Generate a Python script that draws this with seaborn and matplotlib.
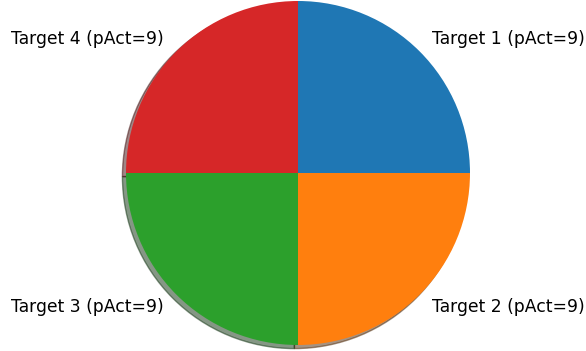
import matplotlib
matplotlib.use("Agg")
import matplotlib.pyplot as plt
import seaborn as sns

# Target activity counts
targets = ["Target 1", "Target 2", "Target 3", "Target 4"]
p_act = [9, 9, 9, 9]

labels = [f"{t} (pAct={v})" for t, v in zip(targets, p_act)]
colors = sns.color_palette("tab10", len(targets))

W, H, DPI = 586, 351, 100
fig = plt.figure(figsize=(W / DPI, H / DPI), dpi=DPI)

# square axes so the pie (radius = 1 of 2.5 data units) sits centred on the canvas
side = 430
cx, cy = 298, H - 173
ax = fig.add_axes([(cx - side / 2) / W, (cy - side / 2) / H, side / W, side / H])

ax.pie(p_act, labels=labels, colors=colors, startangle=90,
       counterclock=False,
       shadow={"ox": -0.015, "oy": -0.015, "label": "_nolegend_"},
       textprops={"fontsize": 12.3})
ax.set_aspect("equal")

fig.savefig("out.png", dpi=DPI)
